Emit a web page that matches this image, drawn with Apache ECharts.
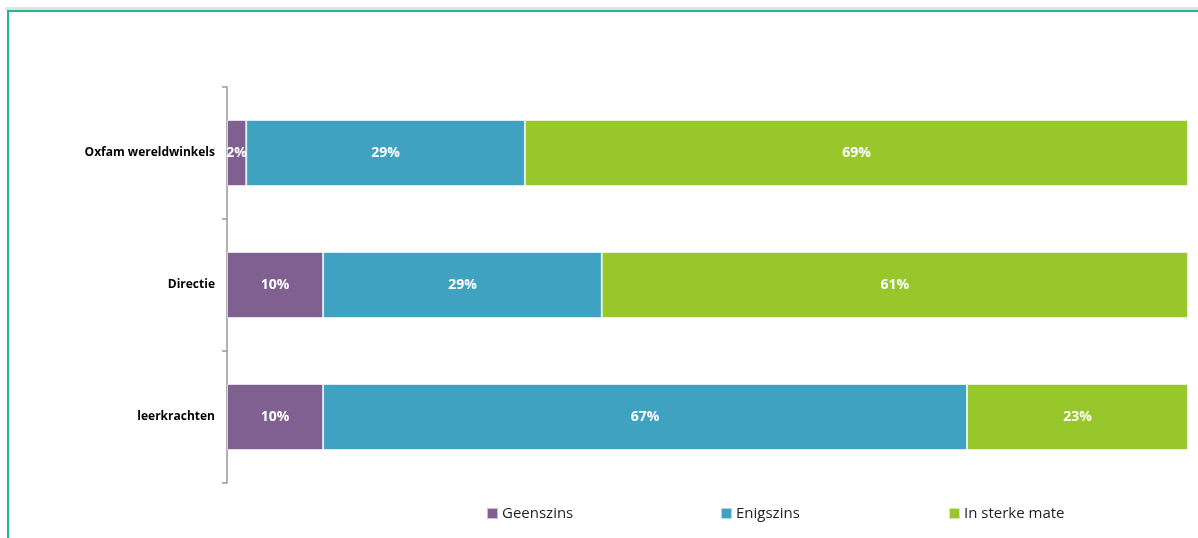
<!DOCTYPE html>
<html>
<head>
<meta charset="utf-8">
<script src="https://cdn.jsdelivr.net/npm/echarts@6/dist/echarts.min.js"></script>
<style>html,body{margin:0;padding:0;background:#fff;}#c{width:1198px;height:538px;}</style>
</head>
<body>
<div id="c"></div>
<script>
const categories = ['Oxfam wereldwinkels', 'Directie', 'leerkrachten'];
const seriesNames = ['Geenszins', 'Enigszins', 'In sterke mate'];
const geenszins = [2, 10, 10];
const enigszins = [29, 29, 67];
const sterk = [69, 61, 23];
const colors = ['#7f6091', '#3fa2c1', '#97c72a'];

const chart = echarts.init(document.getElementById('c'));
const lbl = {
  show: true, position: 'inside', color: '#fff', fontWeight: 'bold',
  fontFamily: 'Open Sans', fontSize: 14, formatter: p => p.value + '%'
};
const vals = [geenszins, enigszins, sterk];
chart.setOption({
  animation: false,
  grid: { left: 227, right: 10, top: 87, bottom: 55 },
  xAxis: { type: 'value', min: 0, max: 100, show: false },
  yAxis: {
    type: 'category', data: categories, inverse: true,
    axisLine: { show: true, lineStyle: { color: '#999', width: 1.5 } },
    axisTick: { show: true, alignWithLabel: false, length: 5, lineStyle: { color: '#999', width: 1.5 } },
    axisLabel: { color: '#000', fontWeight: 'bold', fontFamily: 'Open Sans', fontSize: 12, margin: 12 }
  },
  legend: seriesNames.map((n, i) => ({
    data: [n], left: [481, 715, 943][i], top: 501,
    itemWidth: 11, itemHeight: 11, itemGap: 4, icon: 'rect',
    textStyle: { fontFamily: 'Open Sans', fontSize: 15, color: '#222', padding: [0,0,0,-1] }
  })),
  series: seriesNames.map((n, i) => ({
    name: n, type: 'bar', stack: 'a', barWidth: '50%',
    data: vals[i],
    itemStyle: { color: colors[i], borderColor: 'rgba(255,255,255,0.6)', borderWidth: 1 },
    label: lbl
  })),
  graphic: [
    { type: 'rect', shape: { x: 5, y: 7, width: 1200, height: 3 }, style: { fill: '#e2e2e2' } },
    { type: 'rect', shape: { x: 8, y: 11, width: 1200, height: 540 }, style: { fill: 'none', stroke: '#22b596', lineWidth: 2 } }
  ]
});
</script>
</body>
</html>
